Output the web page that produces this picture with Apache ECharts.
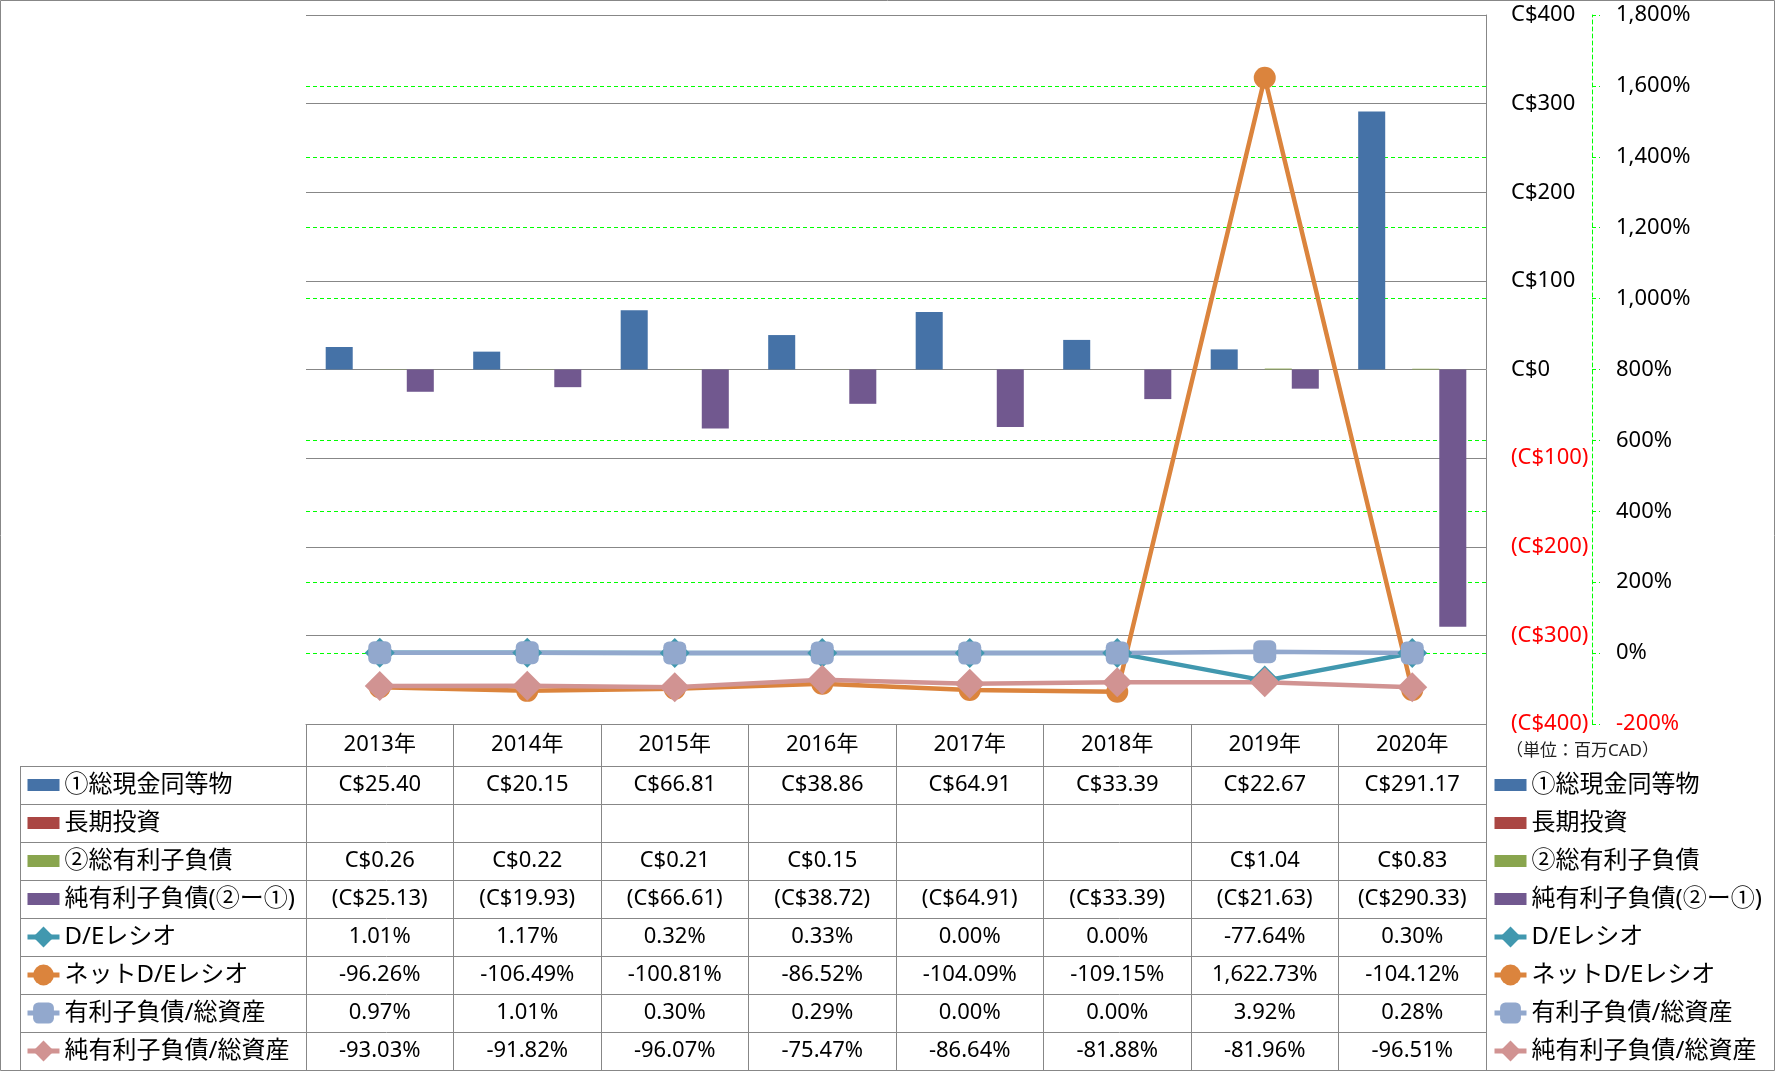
<!DOCTYPE html>
<html><head><meta charset="utf-8">
<script src="https://cdn.jsdelivr.net/npm/echarts@6/dist/echarts.min.js"></script>
<style>html,body{margin:0;padding:0;background:#fff}#c{width:1776px;height:1071px}</style>
</head><body><div id="c"></div>
<script>
const years = ['2013年','2014年','2015年','2016年','2017年','2018年','2019年','2020年'];
const cashEq = [25.40, 20.15, 66.81, 38.86, 64.91, 33.39, 22.67, 291.17];
const longInv = [null, null, null, null, null, null, null, null];
const totalDebt = [0.26, 0.22, 0.21, 0.15, null, null, 1.04, 0.83];
const netDebt = [-25.13, -19.93, -66.61, -38.72, -64.91, -33.39, -21.63, -290.33];
const deRatio = [1.01, 1.17, 0.32, 0.33, 0.00, 0.00, -77.64, 0.30];
const netDeRatio = [-96.26, -106.49, -100.81, -86.52, -104.09, -109.15, 1622.73, -104.12];
const debtToAssets = [0.97, 1.01, 0.30, 0.29, 0.00, 0.00, 3.92, 0.28];
const netDebtToAssets = [-93.03, -91.82, -96.07, -75.47, -86.64, -81.88, -81.96, -96.51];
const seriesNames = ['①総現金同等物','長期投資','②総有利子負債','純有利子負債(②ー①)','D/Eレシオ','ネットD/Eレシオ','有利子負債/総資産','純有利子負債/総資産'];
const unitLabel = '（単位：百万CAD）';

const FF = '"Noto Sans", "Noto Sans CJK JP", sans-serif';
const JF = '"Noto Sans", "Noto Sans CJK JP", sans-serif';
const GRAY = '#878787';
const GREEN = '#00FF00';
const colors = ['#4572A7','#AA4643','#89A54E','#71588F','#4198AF','#DB843D','#92A8CD','#D19392'];

function num2(v){ return Math.abs(v).toLocaleString('en-US',{minimumFractionDigits:2, maximumFractionDigits:2}); }
function money(v){ if (v == null) return ''; const s = 'C$' + num2(v); return v < 0 ? '(' + s + ')' : s; }
function pct(v){ if (v == null) return ''; return (v < 0 ? '-' : '') + num2(v) + '%'; }

const chart = echarts.init(document.getElementById('c'), null, {renderer:'canvas'});
const barIcon = 'path://M0,0M32,26M0,7L32,7L32,19L0,19Z';
const legendBase = {
  orient:'vertical', top:766, itemWidth:32, itemHeight:26, itemGap:0, padding:0, height:330,
  selectedMode:false,
  lineStyle:{width:5},
  textStyle:{fontSize:24, fontFamily:JF, color:'#000', lineHeight:38},
  data: seriesNames.map((n,i) => i < 4 ? {name:n, icon:barIcon} : {name:n})
};

const option = {
  animation:false,
  backgroundColor:'#fff',
  grid:{left:306, right:290, top:15, bottom:347, containLabel:false},
  legend:[Object.assign({left:25}, legendBase), Object.assign({left:1492}, legendBase)],
  xAxis:{
    type:'category', data:years, position:'bottom', z:2,
    axisLine:{onZero:false, lineStyle:{color:GRAY, width:1}},
    axisTick:{show:true, length:346, interval:0, lineStyle:{color:GRAY, width:1}},
    axisLabel:{interval:0, fontSize:22, fontFamily:FF, color:'#000', margin:21, verticalAlign:'middle'},
    splitLine:{show:false}
  },
  yAxis:[{
    type:'value', position:'right', min:-400, max:400, interval:100, z:1,
    axisLine:{show:true, lineStyle:{color:GRAY, width:1}},
    axisTick:{show:false},
    splitLine:{show:true, lineStyle:{color:GRAY, width:1}},
    axisLabel:{margin:25, fontSize:22, fontFamily:FF,
      color:(v) => Number(v) < 0 ? '#FF0000' : '#000',
      formatter:(v) => v < 0 ? '(C$' + (-v) + ')' : 'C$' + v}
  },{
    type:'value', position:'right', offset:106, min:-200, max:1800, interval:200, z:0,
    axisLine:{show:true, lineStyle:{color:GREEN, width:1, type:[4,3]}},
    axisTick:{show:true, length:8, lineStyle:{color:GREEN, width:1, type:[4,3]}},
    splitLine:{show:true, lineStyle:{color:GREEN, width:1, type:[4,3]}},
    axisLabel:{margin:24, fontSize:22, fontFamily:FF,
      color:(v) => Number(v) < 0 ? '#FF0000' : '#000',
      formatter:(v) => v.toLocaleString('en-US') + '%'}
  }],
  series:[
    {name:seriesNames[0], type:'bar', data:cashEq, itemStyle:{color:colors[0]}, barGap:'0%', barCategoryGap:'26.7%'},
    {name:seriesNames[1], type:'bar', data:longInv, itemStyle:{color:colors[1]}, barGap:'0%', barCategoryGap:'26.7%'},
    {name:seriesNames[2], type:'bar', data:totalDebt, itemStyle:{color:colors[2]}, barGap:'0%', barCategoryGap:'26.7%'},
    {name:seriesNames[3], type:'bar', data:netDebt, itemStyle:{color:colors[3]}, barGap:'0%', barCategoryGap:'26.7%'},
    {name:seriesNames[4], type:'line', yAxisIndex:1, data:deRatio, symbol:'diamond', symbolSize:30, showAllSymbol:true,
      lineStyle:{width:4.5, color:colors[4]}, itemStyle:{color:colors[4]}},
    {name:seriesNames[5], type:'line', yAxisIndex:1, data:netDeRatio, symbol:'circle', symbolSize:22, showAllSymbol:true,
      lineStyle:{width:4.5, color:colors[5]}, itemStyle:{color:colors[5]}},
    {name:seriesNames[6], type:'line', yAxisIndex:1, data:debtToAssets, symbol:'roundRect', symbolSize:23, showAllSymbol:true,
      lineStyle:{width:4.5, color:colors[6]}, itemStyle:{color:colors[6]}},
    {name:seriesNames[7], type:'line', yAxisIndex:1, data:netDebtToAssets, symbol:'diamond', symbolSize:30, showAllSymbol:true,
      lineStyle:{width:4.5, color:colors[7]}, itemStyle:{color:colors[7]}}
  ]
};
chart.setOption(option);

// Data table drawn from the arrays, placed on the category axis scale
const rows = [cashEq, longInv, totalDebt, netDebt, deRatio, netDeRatio, debtToAssets, netDebtToAssets];
const fmts = [money, money, money, money, pct, pct, pct, pct];
const xs = years.map(y => chart.convertToPixel({xAxisIndex:0}, y));
const plotRight = chart.convertToPixel({xAxisIndex:0}, years[7]) + (xs[1]-xs[0])/2;
const tableTop = 766, rowH = 38, tableLeft = 20;
const g = [];
g.push({type:'rect', shape:{x:0.5, y:0.5, width:1774, height:1070}, style:{fill:null, stroke:GRAY, lineWidth:1}, silent:true});
for (let k = 0; k <= 8; k++) {
  const y = tableTop + rowH*k + 0.5;
  g.push({type:'line', shape:{x1:tableLeft, y1:y, x2:plotRight, y2:y}, style:{stroke:GRAY, lineWidth:1}, silent:true});
}
g.push({type:'line', shape:{x1:tableLeft+0.5, y1:tableTop, x2:tableLeft+0.5, y2:tableTop+rowH*8}, style:{stroke:GRAY, lineWidth:1}, silent:true});
rows.forEach((arr, r) => {
  arr.forEach((v, c) => {
    const t = fmts[r](v);
    if (!t) return;
    g.push({type:'text', silent:true, style:{text:t, x:xs[c], y:tableTop + rowH*r + rowH/2, align:'center', verticalAlign:'middle', fontSize:22, fontFamily:FF, fill:'#000'}});
  });
});
g.push({type:'text', silent:true, style:{text:unitLabel, x:1506, y:751, align:'left', verticalAlign:'middle', fontSize:17, fontFamily:JF, fill:'#222'}});
chart.setOption({graphic:g});
</script>
</body></html>
